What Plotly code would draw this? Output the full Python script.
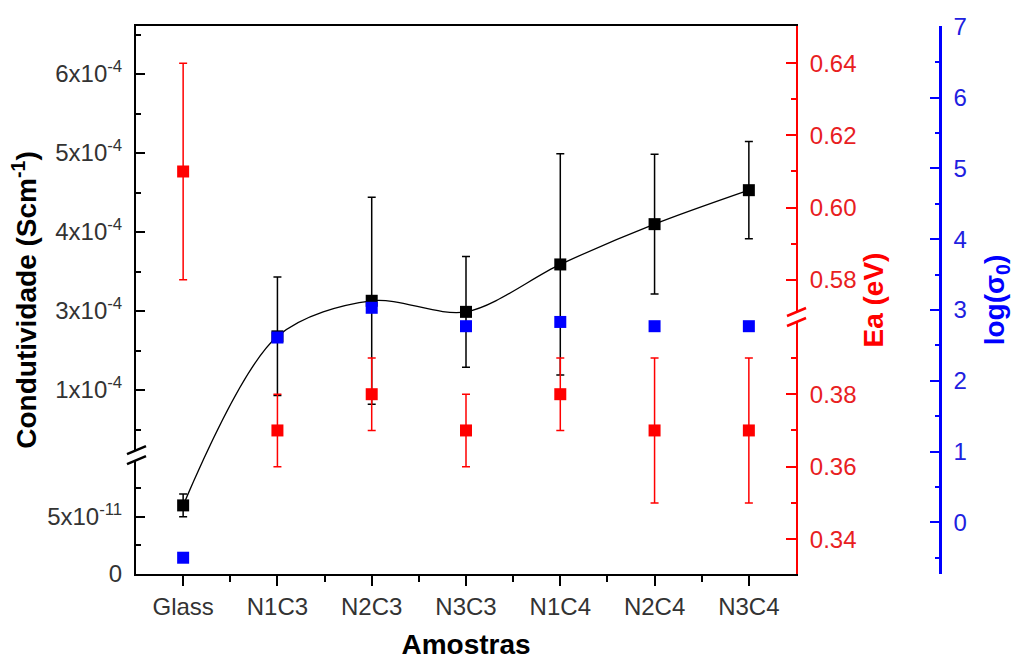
import plotly.graph_objects as go

# ---------------- data ----------------
categories = ["Glass", "N1C3", "N2C3", "N3C3", "N1C4", "N2C4", "N3C4"]
conductivity = [6.0e-11, 2.68e-4, 3.13e-4, 2.99e-4, 3.59e-4, 4.10e-4, 4.53e-4]
conductivity_err = [1.0e-11, 0.75e-4, 1.31e-4, 0.70e-4, 1.40e-4, 0.885e-4, 0.615e-4]
ea = [0.61, 0.37, 0.38, 0.37, 0.38, 0.37, 0.37]
ea_err = [0.03, 0.01, 0.01, 0.01, 0.01, 0.02, 0.02]
log_sigma0 = [-0.50, 2.61, 3.03, 2.77, 2.83, 2.77, 2.77]

cond_tick_vals = [0, 5e-11, 2e-4, 3e-4, 4e-4, 5e-4, 6e-4]
cond_tick_text = ["0", "5x10<sup>-11</sup>", "1x10<sup>-4</sup>", "3x10<sup>-4</sup>",
                  "4x10<sup>-4</sup>", "5x10<sup>-4</sup>", "6x10<sup>-4</sup>"]
cond_minor_vals = [2.5e-11, 7.5e-11, 1.5e-4, 2.5e-4, 3.5e-4, 4.5e-4, 5.5e-4, 6.5e-4]
ea_tick_vals = [0.34, 0.36, 0.38, 0.58, 0.60, 0.62, 0.64]
ea_minor_vals = [0.35, 0.37, 0.39, 0.59, 0.61, 0.63]

# broken-axis segments (data ranges) and fraction of height for the lower part
cond_lo, cond_hi, cond_split = (0.0, 10.4e-11), (1.177e-4, 6.608e-4), 0.217
ea_lo, ea_hi, ea_split = (0.3304, 0.4013), (0.5697, 0.6503), 0.469
log_range = [-0.73, 7.01]


def broken(lo, hi, split):
    def f(v):
        if v <= lo[1]:
            return split * (v - lo[0]) / (lo[1] - lo[0])
        return split + (1 - split) * (v - hi[0]) / (hi[1] - hi[0])
    return f


fc = broken(cond_lo, cond_hi, cond_split)
fe = broken(ea_lo, ea_hi, ea_split)

xs = list(range(len(categories)))
FONT = "Liberation Sans, Arial, sans-serif"
TICK_SIZE = 24
TITLE_SIZE = 28
RED = "#ff0000"
RED_TXT = "#e8201f"
BLUE = "#0000ff"
BLUE_TXT = "#2020e0"

c_disp = [fc(v) for v in conductivity]
c_plus = [fc(v + e) - fc(v) for v, e in zip(conductivity, conductivity_err)]
c_minus = [fc(v) - fc(v - e) for v, e in zip(conductivity, conductivity_err)]
e_disp = [fe(v) for v in ea]
e_plus = [fe(v + e) - fe(v) for v, e in zip(ea, ea_err)]
e_minus = [fe(v) - fe(v - e) for v, e in zip(ea, ea_err)]

fig = go.Figure()
fig.add_trace(go.Scatter(x=xs, y=c_disp, mode="lines", line=dict(color="black", width=1.3, shape="spline", smoothing=0.9),
                         yaxis="y", showlegend=False, hoverinfo="skip"))
fig.add_trace(go.Scatter(x=xs, y=c_disp, mode="markers", marker=dict(symbol="square", size=12, color="black"),
                         error_y=dict(type="data", symmetric=False, array=c_plus, arrayminus=c_minus,
                                      color="black", thickness=1.5, width=4),
                         yaxis="y", showlegend=False))
fig.add_trace(go.Scatter(x=xs, y=e_disp, mode="markers", marker=dict(symbol="square", size=12, color=RED),
                         error_y=dict(type="data", symmetric=False, array=e_plus, arrayminus=e_minus,
                                      color=RED, thickness=1.5, width=4),
                         yaxis="y2", showlegend=False))
fig.add_trace(go.Scatter(x=xs, y=log_sigma0, mode="markers", marker=dict(symbol="square", size=12, color=BLUE),
                         yaxis="y3", showlegend=False))

XDOM = 660 / 804

fig.update_layout(
    width=1014, height=660,
    margin=dict(l=136, r=74, t=26, b=86, autoexpand=False),
    paper_bgcolor="white", plot_bgcolor="white",
    font=dict(family=FONT, size=TICK_SIZE, color="#333333"),
    xaxis=dict(domain=[0, XDOM], range=[-0.5, 6.5], tickvals=xs, ticktext=categories,
               ticks="outside", ticklen=10, tickwidth=2, tickcolor="black",
               minor=dict(tickvals=[x + 0.5 for x in xs[:-1]], ticks="outside", ticklen=6, tickwidth=2, tickcolor="black"),
               showline=True, linecolor="black", linewidth=2, mirror=True,
               showgrid=False, zeroline=False, anchor="y", automargin=False,
               title=dict(text="Amostras", font=dict(size=TITLE_SIZE, color="black", weight="bold"), standoff=22),
               tickfont=dict(size=TICK_SIZE, color="#333333")),
    yaxis=dict(range=[0, 1], tickvals=[fc(v) for v in cond_tick_vals], ticktext=cond_tick_text,
               ticks="inside", ticklen=9, tickwidth=2, tickcolor="black",
               minor=dict(tickvals=[fc(v) for v in cond_minor_vals], ticks="inside", ticklen=5, tickwidth=2, tickcolor="black"),
               showline=True, linecolor="black", linewidth=2, showgrid=False, zeroline=False,
               ticklabelstandoff=7, automargin=False,
               title=dict(text="Condutividade (Scm<sup>-1</sup>)", font=dict(size=TITLE_SIZE, color="black", weight="bold"), standoff=2),
               tickfont=dict(size=TICK_SIZE, color="#333333")),
    yaxis2=dict(range=[0, 1], overlaying="y", side="right", anchor="x",
                tickvals=[fe(v) for v in ea_tick_vals], ticktext=[f"{v:.2f}" for v in ea_tick_vals],
                ticks="inside", ticklen=10, tickwidth=2, tickcolor=RED,
                minor=dict(tickvals=[fe(v) for v in ea_minor_vals], ticks="inside", ticklen=5, tickwidth=2, tickcolor=RED),
                showline=True, linecolor=RED, linewidth=2, showgrid=False, zeroline=False,
                ticklabelstandoff=7, automargin=False,
                title=dict(text="Ea (eV)", font=dict(size=TITLE_SIZE, color=RED, weight="bold"), standoff=8),
                tickfont=dict(size=TICK_SIZE, color=RED_TXT)),
    yaxis3=dict(range=log_range, overlaying="y", side="right", anchor="free", position=1.0,
                dtick=1, tick0=0, ticks="inside", ticklen=9, tickwidth=2, tickcolor=BLUE,
                minor=dict(dtick=0.5, tick0=0, ticks="inside", ticklen=4, tickwidth=2, tickcolor=BLUE),
                showline=True, linecolor=BLUE, linewidth=2.5, showgrid=False, zeroline=False,
                ticklabelstandoff=7, automargin=False,
                title=dict(text="log(σ<sub>0</sub>)", font=dict(size=TITLE_SIZE, color=BLUE, weight="bold"), standoff=22),
                tickfont=dict(size=TICK_SIZE, color=BLUE_TXT)),
)


def add_break(xpos, yref, yval, color):
    # white gap across axis line
    fig.add_shape(type="line", xref="paper", yref=yref, xsizemode="pixel", ysizemode="pixel",
                  xanchor=xpos, yanchor=yval, x0=0, x1=0, y0=-5, y1=5,
                  line=dict(color="white", width=6), layer="above")
    for dy in (-5, 5):
        fig.add_shape(type="line", xref="paper", yref=yref, xsizemode="pixel", ysizemode="pixel",
                      xanchor=xpos, yanchor=yval, x0=-9, x1=10, y0=dy - 4, y1=dy + 4,
                      line=dict(color=color, width=2.5), layer="above")


add_break(0, "y", cond_split, "black")
add_break(XDOM, "y2", ea_split, RED)

fig.write_html("out.html")
